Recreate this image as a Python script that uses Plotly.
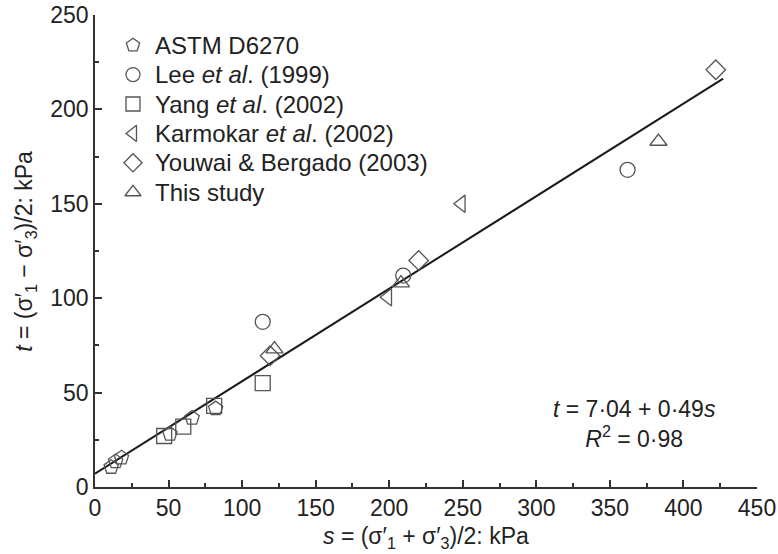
import numpy as np
import plotly.graph_objects as go

# Stress-path data: s = (σ'1 + σ'3)/2, t = (σ'1 - σ'3)/2, both in kPa
astm_s = [11, 14, 18, 51, 66, 82]
astm_t = [10.5, 13.5, 15.5, 28, 36.5, 41.5]

lee_s = [114, 209.5, 362]
lee_t = [87.5, 112, 168]

yang_s = [47, 60, 81, 114]
yang_t = [27, 32, 43, 55]

karmokar_s = [199, 249]
karmokar_t = [100.5, 150]

youwai_s = [119, 220, 422]
youwai_t = [69.5, 120, 221]

study_s = [122, 208, 383]
study_t = [73, 108, 183]

# Linear fit t = a + b s
fit_a = 7.04
fit_b = 0.49
fit_r2 = 0.98
fit_s_max = 427

series = [
    ("ASTM D6270", astm_s, astm_t, "pentagon-open"),
    ("Lee <i>et al</i>. (1999)", lee_s, lee_t, "circle-open"),
    ("Yang <i>et al</i>. (2002)", yang_s, yang_t, "square-open"),
    ("Karmokar <i>et al</i>. (2002)", karmokar_s, karmokar_t, "triangle-left-open"),
    ("Youwai &amp; Bergado (2003)", youwai_s, youwai_t, "diamond-open"),
    ("This study", study_s, study_t, "triangle-up-open"),
]

FONT = "Liberation Sans, Arial, sans-serif"
FS = 23
LEG_FS = 24
TXT = "#222222"
MK = "#555555"
MK_SIZE = 15

fig = go.Figure()

fit_x = np.array([0, fit_s_max])
fig.add_trace(go.Scatter(
    x=fit_x, y=fit_a + fit_b * fit_x, mode="lines",
    line=dict(color="#1a1a1a", width=2), showlegend=False, hoverinfo="skip",
))

for name, xs, ys, sym in series:
    fig.add_trace(go.Scatter(
        x=xs, y=ys, mode="markers", name=name, showlegend=False,
        marker=dict(symbol=sym, size=MK_SIZE, color=MK, line=dict(color=MK, width=1.3)),
    ))

# Key: symbols on an overlay axis spanning the plot area in [0, 1], labels as paper annotations
key_x_sym = 0.0574
key_x_txt = 0.087
key_top = 0.936
key_step = 0.0623
key_y = [key_top - i * key_step for i in range(len(series))]

fig.add_trace(go.Scatter(
    x=[key_x_sym] * len(series), y=key_y, mode="markers", xaxis="x2", yaxis="y2",
    showlegend=False, hoverinfo="skip",
    marker=dict(symbol=[s[3] for s in series], size=MK_SIZE - 1, color=MK,
                line=dict(color=MK, width=1.3)),
))
for (name, _, _, _), yk in zip(series, key_y):
    fig.add_annotation(
        x=key_x_txt, y=yk, xref="paper", yref="paper", xanchor="left", yanchor="middle",
        text=name, showarrow=False, font=dict(family=FONT, size=LEG_FS, color=TXT),
    )

axis_common = dict(
    showgrid=False, zeroline=False, showline=True, linecolor="#333333", linewidth=1.5,
    ticks="inside", ticklen=7, tickwidth=1.5, tickcolor="#333333",
    tickfont=dict(family=FONT, size=FS, color=TXT), automargin=False,
    minor=dict(ticks="inside", ticklen=4, tickwidth=1.5, tickcolor="#333333", dtick=25),
)

fig.update_xaxes(range=[0, 450], dtick=50, **axis_common)
fig.update_yaxes(range=[0, 250], dtick=50, **axis_common)

# Axis titles
fig.add_annotation(
    x=0.5, y=-0.107, xref="paper", yref="paper", xanchor="center", yanchor="middle",
    text="<i>s</i> = (σ′<sub>1</sub> + σ′<sub>3</sub>)/2: kPa", showarrow=False,
    font=dict(family=FONT, size=FS, color=TXT),
)
fig.add_annotation(
    x=-0.106, y=0.5, xref="paper", yref="paper", xanchor="center", yanchor="middle",
    text="<i>t</i> = (σ′<sub>1</sub> − σ′<sub>3</sub>)/2: kPa", showarrow=False, textangle=-90,
    font=dict(family=FONT, size=FS, color=TXT),
)

fig.add_annotation(
    x=367, y=33.4, xref="x", yref="y",
    text=f"<i>t</i> = {fit_a:.2f} + {fit_b:.2f}<i>s</i><br><i>R</i><sup>2</sup> = {fit_r2:.2f}".replace(".", "·"),
    showarrow=False, align="center",
    font=dict(family=FONT, size=FS, color=TXT),
)

fig.update_layout(
    width=778, height=554,
    margin=dict(l=95, r=21, t=15, b=67),
    plot_bgcolor="white", paper_bgcolor="white",
    showlegend=False,
    xaxis2=dict(overlaying="x", range=[0, 1], visible=False, fixedrange=True),
    yaxis2=dict(overlaying="y", range=[0, 1], visible=False, fixedrange=True),
)

fig.write_html("out.html")
